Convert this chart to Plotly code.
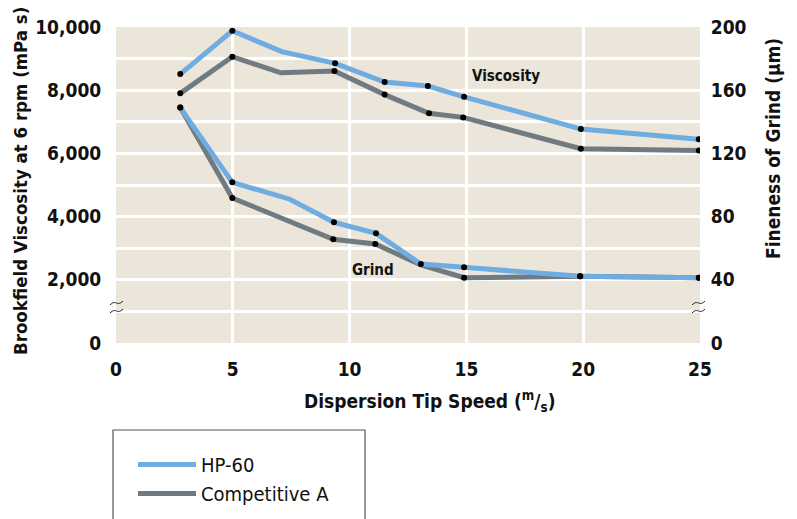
import math
import plotly.graph_objects as go

# ---------------- data ----------------
speed_visc_hp = [2.75, 4.98, 7.1, 9.38, 11.5, 13.35, 14.9, 19.9, 24.95]
visc_hp = [8510, 9880, 9220, 8850, 8260, 8130, 7790, 6770, 6450]
visc_hp_dot = [1, 1, 0, 1, 1, 1, 1, 1, 1]

speed_visc_ca = [2.75, 4.98, 7.06, 9.35, 11.5, 13.4, 14.86, 19.9, 24.95]
visc_ca = [7900, 9060, 8550, 8610, 7860, 7270, 7140, 6150, 6090]
visc_ca_dot = [1, 1, 0, 1, 1, 1, 1, 1, 1]

speed_grind_hp = [2.75, 4.98, 7.44, 9.33, 11.13, 13.05, 14.9, 19.87, 24.95]
grind_hp = [149, 101.7, 91, 76.4, 69.4, 50, 47.9, 42.2, 41.3]
grind_hp_dot = [1, 1, 0, 1, 1, 1, 1, 1, 1]

speed_grind_ca = [2.75, 4.98, 9.3, 11.1, 13.05, 14.9, 19.87, 24.95]
grind_ca = [149, 91.8, 65.6, 62.7, 49.4, 41.3, 42.2, 41.3]
grind_ca_dot = [1, 1, 1, 1, 0, 1, 1, 1]

x_ticks = [0, 5, 10, 15, 20, 25]
y_ticks = [0, 1000, 2000, 3000, 4000, 5000, 6000, 7000, 8000, 9000, 10000]
y_ticktext = ["0", "", "2,000", "", "4,000", "", "6,000", "", "8,000", "", "10,000"]
y2_ticks = [0, 40, 80, 120, 160, 200]

# ---------------- style ----------------
BLUE = "#6fade0"
GRAY = "#6f7b80"
BG = "#ebe5da"
FONT = "Liberation Sans Narrow, Arial Narrow, DejaVu Sans Condensed, Roboto Condensed, Liberation Sans, sans-serif"

W, H = 797, 519
L, R, T, B = 116, 700, 27, 343  # plot area in px


def px(xp):
    return (xp - L) / (R - L)


def py(yp):
    return (B - yp) / (B - T)


fig = go.Figure()

# lines (gray below blue)
fig.add_trace(go.Scatter(x=speed_visc_ca, y=visc_ca, mode="lines", name="Competitive A",
                         line=dict(color=GRAY, width=5), legendrank=2, hoverinfo="skip"))
fig.add_trace(go.Scatter(x=speed_visc_hp, y=visc_hp, mode="lines", name="HP-60",
                         line=dict(color=BLUE, width=5), legendrank=1, hoverinfo="skip"))
fig.add_trace(go.Scatter(x=speed_grind_ca, y=grind_ca, mode="lines", yaxis="y2",
                         line=dict(color=GRAY, width=5), showlegend=False, hoverinfo="skip"))
fig.add_trace(go.Scatter(x=speed_grind_hp, y=grind_hp, mode="lines", yaxis="y2",
                         line=dict(color=BLUE, width=5), showlegend=False, hoverinfo="skip"))


def dots(xs, ys, flags, axis):
    fig.add_trace(go.Scatter(
        x=[a for a, f in zip(xs, flags) if f],
        y=[b for b, f in zip(ys, flags) if f],
        mode="markers", yaxis=axis, showlegend=False,
        marker=dict(color="black", size=6)))


dots(speed_visc_ca, visc_ca, visc_ca_dot, "y")
dots(speed_visc_hp, visc_hp, visc_hp_dot, "y")
dots(speed_grind_ca, grind_ca, grind_ca_dot, "y2")
dots(speed_grind_hp, grind_hp, grind_hp_dot, "y2")


# axis break marks (wavy)
def wave(x0, y0, x1, y1, amp=1.3, n=12):
    pts = []
    for i in range(n + 1):
        t = i / n
        xx = x0 + (x1 - x0) * t
        yy = y0 + (y1 - y0) * t - amp * math.sin(2 * math.pi * t)
        pts.append((px(xx), py(yy)))
    return "M " + " L ".join(f"{a:.5f},{b:.5f}" for a, b in pts)


shapes = []
for (xa, xb) in [(110, 123), (692, 705)]:
    for yoff in [0, 8]:
        shapes.append(dict(type="path", xref="paper", yref="paper",
                           path=wave(xa, 305 + yoff, xb, 301 + yoff),
                           line=dict(color="#222", width=1)))
# legend box
shapes.append(dict(type="rect", xref="paper", yref="paper",
                   x0=px(113), x1=px(365), y0=py(570), y1=py(430),
                   line=dict(color="#555", width=1.2), fillcolor="rgba(0,0,0,0)"))

tickfont = dict(family=FONT, size=19, color="#111", weight="bold")

annotations = [
    dict(text="Brookfield Viscosity at 6 rpm (mPa s)", textangle=-90, xref="paper", yref="paper",
         x=px(20), y=py(181), showarrow=False, xanchor="center", yanchor="middle",
         font=dict(family=FONT, size=18.5, color="#111", weight="bold")),
    dict(text="Fineness of Grind (µm)", textangle=-90, xref="paper", yref="paper",
         x=px(773), y=py(149), showarrow=False, xanchor="center", yanchor="middle",
         font=dict(family=FONT, size=19, color="#111", weight="bold")),
    dict(text="Dispersion Tip Speed (<sup>m</sup>/<sub>s</sub>)", xref="paper", yref="paper",
         x=px(429), y=py(401), showarrow=False, xanchor="center", yanchor="middle",
         font=dict(family=FONT, size=19, color="#111", weight="bold")),
    dict(text="Viscosity", xref="x", yref="y", x=16.7, y=8450, showarrow=False,
         font=dict(family=FONT, size=15, color="#111", weight="bold")),
    dict(text="Grind", xref="x", yref="y", x=11.0, y=2300, showarrow=False,
         font=dict(family=FONT, size=15, color="#111", weight="bold")),
]

fig.update_layout(
    width=W, height=H,
    margin=dict(l=L, r=W - R, t=T, b=H - B, pad=0, autoexpand=False),
    paper_bgcolor="white", plot_bgcolor=BG,
    font=dict(family=FONT, color="#111"),
    showlegend=True,
    legend=dict(x=px(133), y=py(445), xanchor="left", yanchor="top",
                bgcolor="rgba(0,0,0,0)", borderwidth=0, itemwidth=58,
                font=dict(family=FONT, size=20, color="#111"),
                traceorder="normal"),
    xaxis=dict(range=[0, 25], tickvals=x_ticks, showgrid=True, gridcolor="white", gridwidth=2.5,
               zeroline=False, showline=False, ticks="outside", ticklen=9,
               tickcolor="rgba(0,0,0,0)", tickfont=tickfont, fixedrange=True),
    yaxis=dict(range=[0, 10000], tickvals=y_ticks, ticktext=y_ticktext, showgrid=True,
               gridcolor="white", gridwidth=2.5, zeroline=False, showline=False,
               ticks="outside", ticklen=10, tickcolor="rgba(0,0,0,0)", tickfont=tickfont),
    yaxis2=dict(range=[0, 200], tickvals=y2_ticks, overlaying="y", side="right", showgrid=False,
                zeroline=False, showline=False, ticks="outside", ticklen=6,
                tickcolor="rgba(0,0,0,0)", tickfont=tickfont),
    shapes=shapes,
    annotations=annotations,
)

fig.write_html("out.html", config={"displayModeBar": False},
               post_script="document.body.style.margin='0';")
